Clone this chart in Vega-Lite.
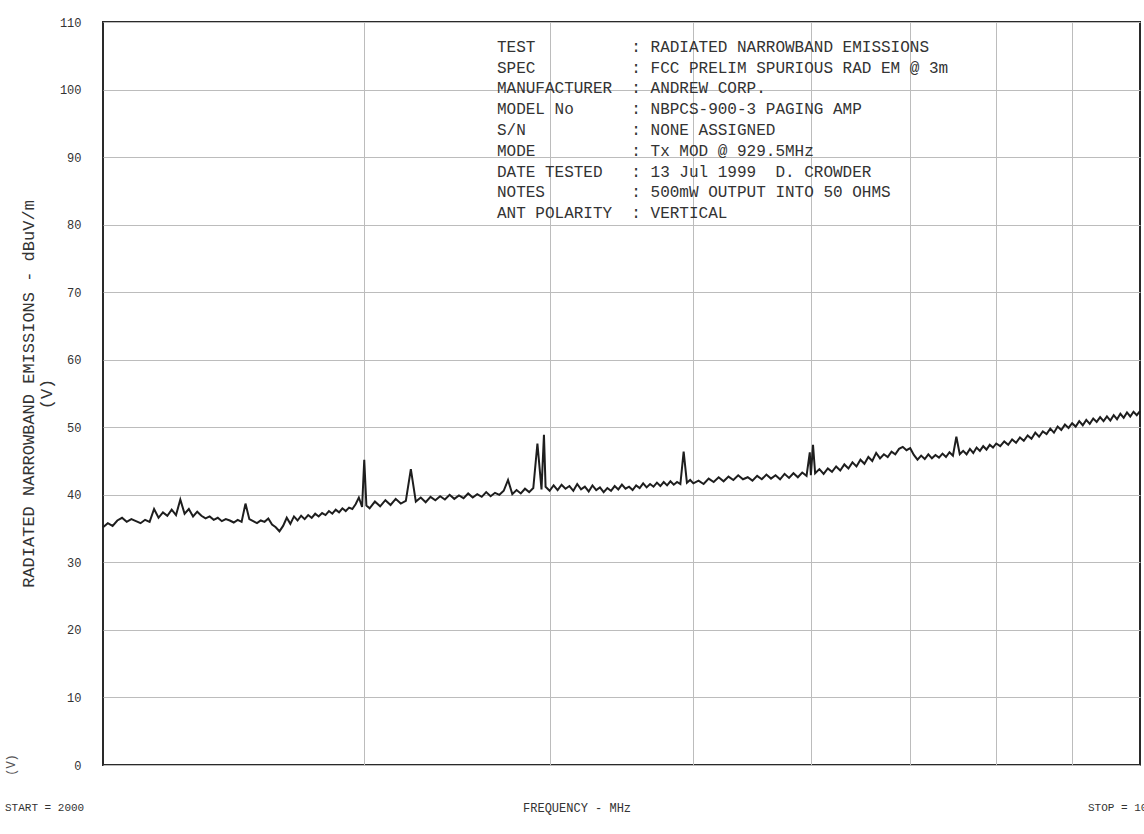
{
  "$schema": "https://vega.github.io/schema/vega-lite/v6.json",
  "width": 1037,
  "height": 743,
  "autosize": {"type": "none"},
  "padding": {"left": 103, "top": 22, "right": 4, "bottom": 69},
  "background": "white",
  "config": {
    "view": {"stroke": "#2a2a2a", "strokeWidth": 2},
    "font": "Liberation Mono",
    "text": {"font": "Liberation Mono", "color": "#333"}
  },
  "data": {"values": [
    {"f":2000,"dB":35.2},{"f":2015,"dB":35.8},{"f":2030,"dB":35.4},{"f":2045,"dB":36.2},{"f":2060,"dB":36.6},{"f":2075,"dB":36.0},{"f":2090,"dB":36.4},{"f":2105,"dB":36.1},{"f":2120,"dB":35.8},{"f":2135,"dB":36.3},{"f":2150,"dB":36.0},{"f":2165,"dB":37.9},{"f":2180,"dB":36.6},{"f":2195,"dB":37.4},{"f":2210,"dB":36.9},{"f":2225,"dB":37.8},{"f":2240,"dB":37.0},{"f":2255,"dB":39.3},{"f":2270,"dB":37.2},{"f":2285,"dB":37.9},{"f":2300,"dB":36.8},{"f":2315,"dB":37.5},{"f":2330,"dB":36.9},{"f":2345,"dB":36.5},{"f":2360,"dB":36.8},{"f":2375,"dB":36.3},{"f":2390,"dB":36.6},{"f":2405,"dB":36.1},{"f":2420,"dB":36.4},{"f":2435,"dB":36.2},{"f":2450,"dB":35.9},{"f":2465,"dB":36.3},{"f":2480,"dB":36.0},{"f":2495,"dB":38.7},{"f":2510,"dB":36.4},{"f":2525,"dB":36.1},{"f":2540,"dB":35.8},{"f":2555,"dB":36.2},{"f":2570,"dB":36.0},{"f":2585,"dB":36.5},{"f":2600,"dB":35.6},{"f":2615,"dB":35.2},{"f":2630,"dB":34.6},{"f":2645,"dB":35.4},{"f":2660,"dB":36.6},{"f":2675,"dB":35.7},{"f":2690,"dB":36.8},{"f":2705,"dB":36.2},{"f":2720,"dB":36.9},{"f":2735,"dB":36.4},{"f":2750,"dB":37.0},{"f":2765,"dB":36.6},{"f":2780,"dB":37.2},{"f":2795,"dB":36.8},{"f":2810,"dB":37.3},{"f":2825,"dB":37.0},{"f":2840,"dB":37.6},{"f":2855,"dB":37.2},{"f":2870,"dB":37.8},{"f":2885,"dB":37.4},{"f":2900,"dB":38.0},{"f":2915,"dB":37.6},{"f":2930,"dB":38.1},{"f":2945,"dB":37.9},{"f":2960,"dB":38.6},{"f":2975,"dB":39.6},{"f":2990,"dB":38.2},{"f":3000,"dB":45.2},{"f":3010,"dB":38.4},
    {"f":3025,"dB":38.0},{"f":3050,"dB":39.0},{"f":3075,"dB":38.3},{"f":3100,"dB":39.2},{"f":3125,"dB":38.5},{"f":3150,"dB":39.4},{"f":3175,"dB":38.7},{"f":3200,"dB":39.1},{"f":3225,"dB":43.8},{"f":3250,"dB":39.0},{"f":3275,"dB":39.6},{"f":3300,"dB":38.9},{"f":3325,"dB":39.7},{"f":3350,"dB":39.2},{"f":3375,"dB":39.8},{"f":3400,"dB":39.3},{"f":3425,"dB":40.0},{"f":3450,"dB":39.4},{"f":3475,"dB":39.9},{"f":3500,"dB":39.5},{"f":3525,"dB":40.2},{"f":3550,"dB":39.6},{"f":3575,"dB":40.1},{"f":3600,"dB":39.7},{"f":3625,"dB":40.4},{"f":3650,"dB":39.8},{"f":3675,"dB":40.3},{"f":3700,"dB":40.0},{"f":3725,"dB":40.6},{"f":3750,"dB":42.2},{"f":3775,"dB":40.1},{"f":3800,"dB":40.7},{"f":3825,"dB":40.2},{"f":3850,"dB":40.9},{"f":3875,"dB":40.4},{"f":3900,"dB":41.0},{"f":3925,"dB":47.6},{"f":3950,"dB":40.8},{"f":3965,"dB":48.9},{"f":3975,"dB":41.2},{"f":4000,"dB":40.6},{"f":4025,"dB":41.4},{"f":4050,"dB":40.7},{"f":4075,"dB":41.5},{"f":4100,"dB":40.9},{"f":4125,"dB":41.3},{"f":4150,"dB":40.6},{"f":4175,"dB":41.6},{"f":4200,"dB":40.8},{"f":4225,"dB":41.2},{"f":4250,"dB":40.5},{"f":4275,"dB":41.4},{"f":4300,"dB":40.7},{"f":4325,"dB":41.1},{"f":4350,"dB":40.4},{"f":4375,"dB":41.0},{"f":4400,"dB":40.6},{"f":4425,"dB":41.3},{"f":4450,"dB":40.8},{"f":4475,"dB":41.5},{"f":4500,"dB":40.9},{"f":4525,"dB":41.2},{"f":4550,"dB":40.7},{"f":4575,"dB":41.4},{"f":4600,"dB":41.0},{"f":4625,"dB":41.7},{"f":4650,"dB":41.1},{"f":4675,"dB":41.6},{"f":4700,"dB":41.2},{"f":4725,"dB":41.8},{"f":4750,"dB":41.3},{"f":4775,"dB":41.9},{"f":4800,"dB":41.4},{"f":4825,"dB":42.0},{"f":4850,"dB":41.5},{"f":4875,"dB":41.9},{"f":4900,"dB":41.6},{"f":4925,"dB":46.4},{"f":4950,"dB":41.8},{"f":4975,"dB":42.2},{"f":5000,"dB":41.7},
    {"f":5040,"dB":42.1},{"f":5080,"dB":41.6},{"f":5120,"dB":42.4},{"f":5160,"dB":41.9},{"f":5200,"dB":42.6},{"f":5240,"dB":42.0},{"f":5280,"dB":42.7},{"f":5320,"dB":42.2},{"f":5360,"dB":42.9},{"f":5400,"dB":42.3},{"f":5440,"dB":42.6},{"f":5480,"dB":42.1},{"f":5520,"dB":42.8},{"f":5560,"dB":42.3},{"f":5600,"dB":43.0},{"f":5640,"dB":42.4},{"f":5680,"dB":42.9},{"f":5720,"dB":42.3},{"f":5760,"dB":43.1},{"f":5800,"dB":42.5},{"f":5840,"dB":43.2},{"f":5880,"dB":42.6},{"f":5920,"dB":43.3},{"f":5960,"dB":42.8},{"f":5990,"dB":46.3},{"f":6000,"dB":42.9},{"f":6020,"dB":47.4},{"f":6040,"dB":43.2},{"f":6080,"dB":43.8},{"f":6120,"dB":43.1},{"f":6160,"dB":43.9},{"f":6200,"dB":43.4},{"f":6240,"dB":44.2},{"f":6280,"dB":43.6},{"f":6320,"dB":44.5},{"f":6360,"dB":43.9},{"f":6400,"dB":44.8},{"f":6440,"dB":44.2},{"f":6480,"dB":45.2},{"f":6520,"dB":44.6},{"f":6560,"dB":45.6},{"f":6600,"dB":45.0},{"f":6640,"dB":46.2},{"f":6680,"dB":45.4},{"f":6720,"dB":46.0},{"f":6760,"dB":45.6},{"f":6800,"dB":46.4},{"f":6840,"dB":46.0},{"f":6880,"dB":46.8},{"f":6920,"dB":47.1},{"f":6960,"dB":46.6},{"f":7000,"dB":46.9},{"f":7040,"dB":45.9},{"f":7080,"dB":45.2},{"f":7120,"dB":45.8},{"f":7160,"dB":45.3},{"f":7200,"dB":46.0},{"f":7240,"dB":45.4},{"f":7280,"dB":45.9},{"f":7320,"dB":45.5},{"f":7360,"dB":46.1},{"f":7400,"dB":45.6},{"f":7440,"dB":46.3},{"f":7480,"dB":45.8},{"f":7520,"dB":48.6},{"f":7560,"dB":46.0},{"f":7600,"dB":46.5},{"f":7640,"dB":46.0},{"f":7680,"dB":46.8},{"f":7720,"dB":46.2},{"f":7760,"dB":47.0},{"f":7800,"dB":46.5},{"f":7840,"dB":47.2},{"f":7880,"dB":46.7},{"f":7920,"dB":47.4},{"f":7960,"dB":47.0},{"f":8000,"dB":47.6},
    {"f":8050,"dB":47.2},{"f":8100,"dB":47.9},{"f":8150,"dB":47.4},{"f":8200,"dB":48.2},{"f":8250,"dB":47.7},{"f":8300,"dB":48.5},{"f":8350,"dB":48.0},{"f":8400,"dB":48.8},{"f":8450,"dB":48.3},{"f":8500,"dB":49.2},{"f":8550,"dB":48.6},{"f":8600,"dB":49.4},{"f":8650,"dB":49.0},{"f":8700,"dB":49.8},{"f":8750,"dB":49.2},{"f":8800,"dB":50.1},{"f":8850,"dB":49.6},{"f":8900,"dB":50.4},{"f":8950,"dB":49.9},{"f":9000,"dB":50.6},{"f":9050,"dB":50.1},{"f":9100,"dB":50.9},{"f":9150,"dB":50.3},{"f":9200,"dB":51.1},{"f":9250,"dB":50.5},{"f":9300,"dB":51.3},{"f":9350,"dB":50.8},{"f":9400,"dB":51.5},{"f":9450,"dB":50.9},{"f":9500,"dB":51.6},{"f":9550,"dB":51.0},{"f":9600,"dB":51.8},{"f":9650,"dB":51.2},{"f":9700,"dB":52.0},{"f":9750,"dB":51.4},{"f":9800,"dB":52.2},{"f":9850,"dB":51.6},{"f":9900,"dB":52.3},{"f":9950,"dB":51.8},{"f":10000,"dB":52.4}
  ]},
  "layer": [
    {
      "mark": {"type": "line", "color": "#1e1e1e", "strokeWidth": 2, "interpolate": "linear"},
      "encoding": {
        "x": {
          "field": "f", "type": "quantitative",
          "scale": {"type": "log", "domain": [2000, 10000], "nice": false},
          "axis": {
            "values": [3000, 4000, 5000, 6000, 7000, 8000, 9000],
            "grid": true, "gridColor": "#bcbcbc", "gridWidth": 1,
            "labels": false, "ticks": false, "domain": false, "title": null
          }
        },
        "y": {
          "field": "dB", "type": "quantitative",
          "scale": {"domain": [0, 110], "nice": false, "zero": false},
          "axis": {
            "values": [0, 10, 20, 30, 40, 50, 60, 70, 80, 90, 100, 110],
            "grid": true, "gridColor": "#bcbcbc", "gridWidth": 1,
            "ticks": false, "domain": false,
            "labelFont": "Liberation Mono", "labelFontSize": 12, "labelColor": "#333",
            "labelPadding": 22,
            "title": ["RADIATED NARROWBAND EMISSIONS - dBuV/m", "(V)"],
            "titleFont": "Liberation Mono", "titleFontSize": 17, "titleFontWeight": "normal",
            "titleColor": "#333", "titleLineHeight": 18, "titlePadding": 4
          }
        }
      }
    },
    {
      "data": {"values": [{"lines": [
        "TEST\u00a0\u00a0\u00a0\u00a0\u00a0\u00a0\u00a0\u00a0\u00a0\u00a0: RADIATED NARROWBAND EMISSIONS",
        "SPEC\u00a0\u00a0\u00a0\u00a0\u00a0\u00a0\u00a0\u00a0\u00a0\u00a0: FCC PRELIM SPURIOUS RAD EM @ 3m",
        "MANUFACTURER\u00a0\u00a0: ANDREW CORP.",
        "MODEL No\u00a0\u00a0\u00a0\u00a0\u00a0\u00a0: NBPCS-900-3 PAGING AMP",
        "S/N\u00a0\u00a0\u00a0\u00a0\u00a0\u00a0\u00a0\u00a0\u00a0\u00a0\u00a0: NONE ASSIGNED",
        "MODE\u00a0\u00a0\u00a0\u00a0\u00a0\u00a0\u00a0\u00a0\u00a0\u00a0: Tx MOD @ 929.5MHz",
        "DATE TESTED\u00a0\u00a0\u00a0: 13 Jul 1999\u00a0\u00a0D. CROWDER",
        "NOTES\u00a0\u00a0\u00a0\u00a0\u00a0\u00a0\u00a0\u00a0\u00a0: 500mW OUTPUT INTO 50 OHMS",
        "ANT POLARITY\u00a0\u00a0: VERTICAL"
      ]}]},
      "mark": {"type": "text", "align": "left", "baseline": "top", "fontSize": 16, "lineHeight": 20.8, "font": "Liberation Mono", "color": "#333"},
      "encoding": {
        "x": {"datum": 3686},
        "y": {"datum": 107.5},
        "text": {"field": "lines", "type": "nominal"}
      }
    },
    {
      "data": {"values": [{"t": "START = 2000"}]},
      "mark": {"type": "text", "align": "left", "baseline": "middle", "fontSize": 11, "dx": -98, "dy": 43, "font": "Liberation Mono", "color": "#333"},
      "encoding": {"x": {"datum": 2000}, "y": {"datum": 0}, "text": {"field": "t", "type": "nominal"}}
    },
    {
      "data": {"values": [{"t": "FREQUENCY - MHz"}]},
      "mark": {"type": "text", "align": "center", "baseline": "middle", "fontSize": 12, "dy": 43, "font": "Liberation Mono", "color": "#333"},
      "encoding": {"x": {"datum": 4174}, "y": {"datum": 0}, "text": {"field": "t", "type": "nominal"}}
    },
    {
      "data": {"values": [{"t": "STOP = 10000"}]},
      "mark": {"type": "text", "align": "left", "baseline": "middle", "fontSize": 11, "dx": -52, "dy": 43, "font": "Liberation Mono", "color": "#333"},
      "encoding": {"x": {"datum": 10000}, "y": {"datum": 0}, "text": {"field": "t", "type": "nominal"}}
    },
    {
      "data": {"values": [{"t": "(V)"}]},
      "mark": {"type": "text", "align": "center", "baseline": "middle", "fontSize": 12, "angle": 270, "dx": 0, "dy": -92, "font": "Liberation Mono", "color": "#555"},
      "encoding": {"x": {"datum": 2000}, "y": {"datum": 0}, "text": {"field": "t", "type": "nominal"}}
    }
  ]
}
